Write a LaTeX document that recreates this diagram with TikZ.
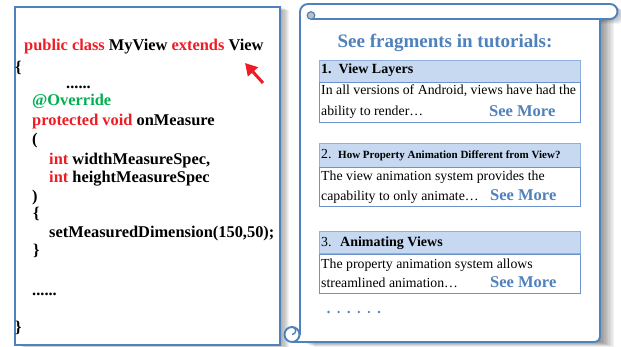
\documentclass[tikz,border=0pt]{standalone}
\usepackage{fontspec}
\setmainfont{Liberation Serif}
\usetikzlibrary{arrows.meta}
\definecolor{kwred}{HTML}{EE1C25}
\definecolor{kwgreen}{HTML}{00B050}
\definecolor{boxblue}{HTML}{4F81BD}
\definecolor{hdrfill}{HTML}{C6D9F1}
\definecolor{hdrline}{HTML}{8FB0DB}
\definecolor{bodyline}{HTML}{6C93CC}
\definecolor{curlgray}{HTML}{BFBFBF}
\tikzset{
  code/.style={anchor=base west, inner sep=0pt, font=\fontsize{16.4}{16.4}\selectfont\bfseries},
  hdrbox/.style={draw=hdrline, fill=hdrfill, line width=1pt, minimum width=261pt, minimum height=22pt, inner sep=0pt, anchor=north west},
  bodybox/.style={draw=bodyline, fill=white, line width=1pt, minimum width=261pt, inner sep=0pt, anchor=north west},
  hdrtext/.style={anchor=base west, inner sep=0pt, font=\fontsize{14}{14}\selectfont\bfseries},
  bodytext/.style={anchor=base west, inner sep=0pt, font=\fontsize{13.8}{13.8}\selectfont},
  seemore/.style={anchor=base west, inner sep=0pt, text=boxblue, font=\fontsize{16.5}{16.5}\selectfont\bfseries},
  scrollline/.style={draw=boxblue, line width=1.9pt, line join=round},
  shade/.style={black, opacity=0.05}
}
\begin{document}
\begin{tikzpicture}[x=1pt,y=-1pt]
\useasboundingbox (0,0) rectangle (621,347);
% ---------- left code box ----------
\foreach \i in {1,...,9} \fill[shade, shift={(\i*1.1,\i*0.45)}] (14,6) rectangle (279,344);
\node[draw=boxblue, fill=white, line width=1.8pt, minimum width=265pt, minimum height=338pt, inner sep=0pt, anchor=north west] (codebox) at (14,6) {};
\node[code] (c1) at (24,51) {{\color{kwred}public class} MyView {\color{kwred}extends} View};
\node[code] (c2) at (15,73) {\{};
\node[code] (c3) at (66,89) {......};
\node[code, text=kwgreen] (c4) at (32,106) {@Override};
\node[code] (c5) at (32,126) {{\color{kwred}protected void} onMeasure};
\node[code] (c6) at (32,145) {(};
\node[code] (c7) at (49,165) {{\color{kwred}int} widthMeasureSpec,};
\node[code] (c8) at (49,183) {{\color{kwred}int} heightMeasureSpec};
\node[code] (c9) at (32,202) {)};
\node[code] (c10) at (33,219) {\{};
\node[code] (c11) at (49,238) {setMeasuredDimension(150,50);};
\node[code] (c12) at (33,256) {\}};
\node[code] (c13) at (32,296) {......};
\node[code] (c14) at (15,332) {\}};
\coordinate (atail) at (263,83);
\coordinate (ahead) at (245,63);
\draw[kwred, line width=3pt, -{Triangle[length=12pt,width=13pt]}] (atail) -- (ahead);
% ---------- scroll ----------
\foreach \i in {1,...,10} {
  \fill[shade, shift={(\i*1.4,\i*0.45)}] (300,12) rectangle (600,342);
  \fill[shade, opacity=0.03, shift={(\i*0.8,\i*0.5)}, rounded corners=7.5pt] (300,4) rectangle (617.5,19);
}
\fill[white] (300,12) -- (300,342) -- (595,342) arc[start angle=90, end angle=0, radius=5] -- (600,12) -- cycle;
\draw[scrollline] (300,14) -- (300,334.5);
\draw[scrollline] (292,342) -- (595,342) arc[start angle=90, end angle=0, radius=5] -- (600,19);
\draw[scrollline, fill=white] (300,14) -- (300,12) arc[start angle=180, end angle=270, radius=8] -- (610,4)
  arc[start angle=270, end angle=450, radius=7.5] -- (311,19);
\draw[scrollline, line width=1.2pt, fill=curlgray] (311,15.5) circle[radius=3.8];
\draw[scrollline, fill=white] (292,334.5) circle[radius=7.5];
\draw[scrollline, line width=1.4pt] (292,327) arc[start angle=-90, end angle=90, radius=3.75];
% title
\node[anchor=base, inner sep=0pt, text=boxblue, font=\fontsize{19}{19}\selectfont\bfseries] (title) at (445,48) {See fragments in tutorials:};
% box 1
\node[hdrbox] (h1) at (319,60) {};
\node[bodybox, minimum height=40pt] (b1) at (319,82) {};
\node[hdrtext] (h1t) at (321,74) {1.\ \ View Layers};
\node[bodytext] (b1a) at (321,94.5) {In all versions of Android, views have had the};
\node[bodytext] (b1b) at (321,115.5) {ability to render\dots};
\node[seemore] (s1) at (489,116.5) {See More};
% box 2
\node[hdrbox, minimum height=24pt] (h2) at (319,143) {};
\node[bodybox, minimum height=39pt] (b2) at (319,167) {};
\node[bodytext] (h2n) at (321,159) {2.};
\node[anchor=base west, inner sep=0pt, font=\fontsize{11}{11}\selectfont\bfseries] (h2t) at (338,159) {How Property Animation Different from View?};
\node[bodytext] (b2a) at (321,181) {The view animation system provides the};
\node[bodytext] (b2b) at (321,200.5) {capability to only animate\dots};
\node[seemore] (s2) at (490,201) {See More};
% box 3
\node[hdrbox] (h3) at (319,231) {};
\node[bodybox, minimum height=39pt] (b3) at (319,254) {};
\node[bodytext] (h3n) at (321,247) {3.};
\node[hdrtext] (h3t) at (340,247) {Animating Views};
\node[bodytext] (b3a) at (321,268.5) {The property animation system allows};
\node[bodytext] (b3b) at (321,287.5) {streamlined animation\dots};
\node[seemore] (s3) at (490,288) {See More};
% dots
\foreach \k in {0,...,5} \fill[boxblue] (328.5+\k*10.1,312) circle[radius=1.3];
\end{tikzpicture}
\end{document}
